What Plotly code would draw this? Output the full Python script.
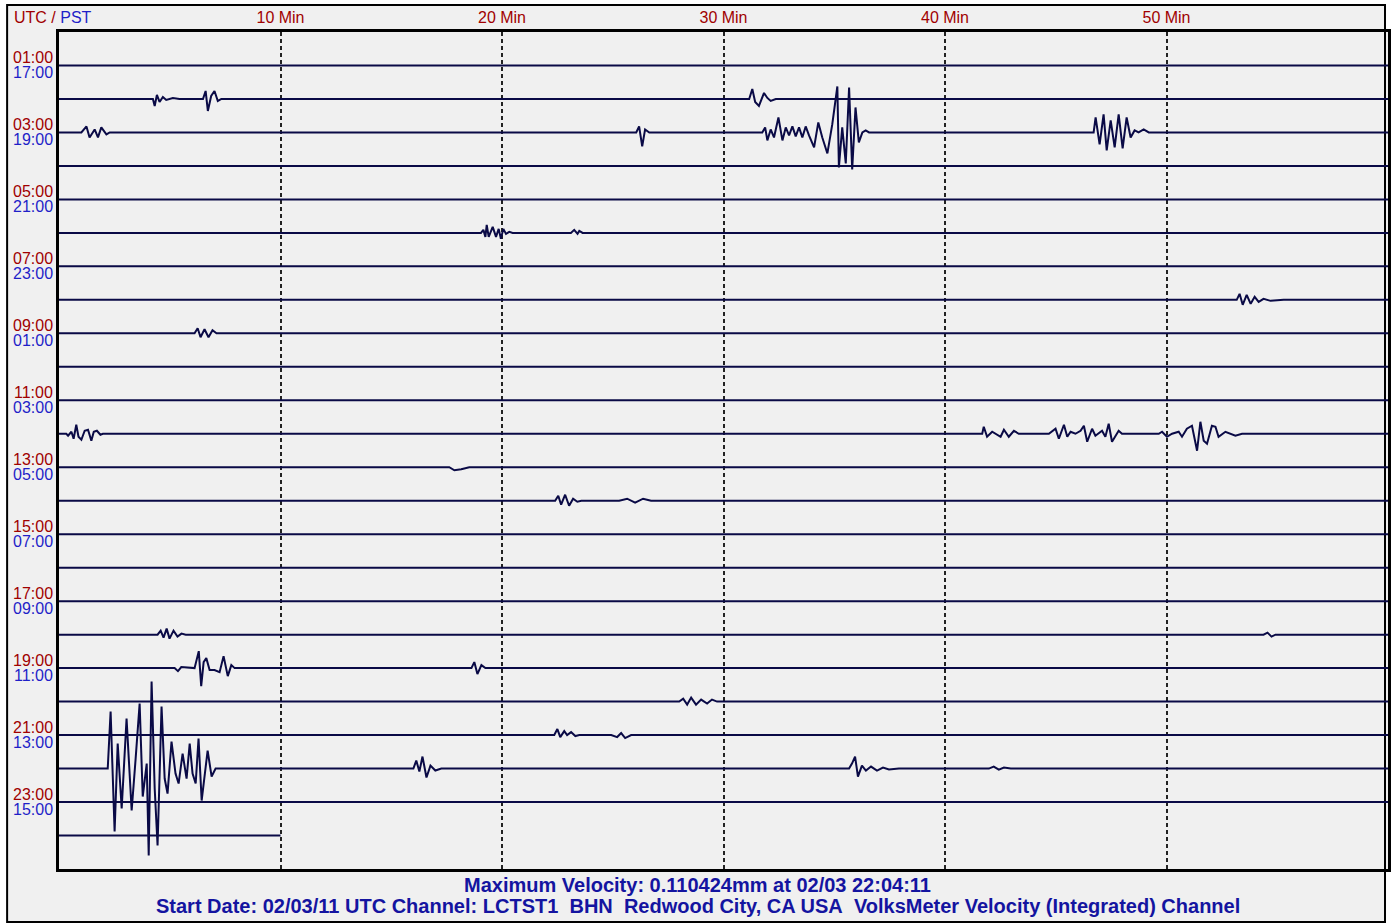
import plotly.graph_objects as go

# ---------------- data ----------------
N_ROWS = 24
row_end_minutes = [60] * 23 + [10]          # last line stops at 10 min
label_rows = [0, 2, 4, 6, 8, 10, 12, 14, 16, 18, 20, 22]
utc_labels = ["01:00", "03:00", "05:00", "07:00", "09:00", "11:00",
              "13:00", "15:00", "17:00", "19:00", "21:00", "23:00"]
pst_labels = ["17:00", "19:00", "21:00", "23:00", "01:00", "03:00",
              "05:00", "07:00", "09:00", "11:00", "13:00", "15:00"]
minute_ticks = [10, 20, 30, 40, 50]
minute_labels = ["10 Min", "20 Min", "30 Min", "40 Min", "50 Min"]
COUNTS_PER_ROW = 33.5   # trace amplitude (counts) equal to one line spacing

# events: times in minutes after the hour, amplitudes in counts
r1a_t = [4.24, 4.32, 4.42, 4.54, 4.69, 4.84, 5.14, 5.44]
r1a_v = [0, -7, 4, -3, 2, -1, 1, 0]
r1b_t = [6.50, 6.62, 6.72, 6.87, 7.02, 7.17, 7.33]
r1b_v = [0, 8, -12, 3, 8, -2, 0]
r1c_t = [31.16, 31.30, 31.43, 31.60, 31.83, 31.98, 32.13, 32.36]
r1c_v = [0, 10, -3, -7, 6, 1, -2, 0]

r2a_t = [1.01, 1.24, 1.38, 1.61, 1.76, 1.91, 2.14, 2.29]
r2a_v = [0, 6, -5, 3, -5, 5, -2, 0]
r2b_t = [26.06, 26.19, 26.33, 26.46, 26.65]
r2b_v = [0, 6, -14, 3, 0]
r2c_t = [31.75, 31.88, 31.98, 32.13, 32.28, 32.48, 32.66, 32.81, 32.96, 33.11,
         33.26, 33.41, 33.56, 33.71, 33.86, 34.09, 34.28, 34.46, 34.69, 34.91,
         35.14, 35.21, 35.36, 35.52, 35.67, 35.81, 35.96, 36.11, 36.27, 36.42, 36.57]
r2c_v = [0, 5, -8, 3, -5, 15, -8, 5, -3, 6,
         -4, 5, -5, 6, -3, -15, 10, -5, -21, 8,
         46, -35, 5, -31, 45, -37, 25, -10, 0, 2, 0]
r2d_t = [46.71, 46.80, 46.98, 47.16, 47.30, 47.48, 47.66, 47.84, 48.02, 48.20,
         48.38, 48.56, 48.74, 48.97, 49.20]
r2d_v = [0, 15, -12, 18, -18, 12, -15, 18, -16, 15, -5, 2, 0, 3, 0]

r5a_t = [19.05, 19.16, 19.25, 19.31, 19.40, 19.58, 19.73, 19.85, 19.95, 20.06, 20.18, 20.33, 20.48]
r5a_v = [0, 3, -4, 8, -4, 6, -4, 4, -6, 4, -1, 1, 0]
r5b_t = [23.11, 23.26, 23.41, 23.49, 23.64]
r5b_v = [0, 3, -1, 2, 0]

r7a_t = [53.17, 53.30, 53.44, 53.62, 53.80, 53.98, 54.16, 54.38, 54.70, 55.29]
r7a_v = [0, 6, -5, 5, -4, 3, -2, 1, -1, 0]

r8a_t = [6.12, 6.26, 6.39, 6.57, 6.75, 6.93, 7.11]
r8a_v = [0, 5, -4, 4, -4, 3, 0]

r11a_t = [0.33, 0.41, 0.56, 0.66, 0.78, 0.88, 1.01, 1.16, 1.31, 1.46, 1.57, 1.71, 1.87, 1.98]
r11a_v = [0, -2, 2, -5, 9, -3, -6, 3, 4, -7, 2, 3, -1, 0]
r11b_t = [41.68, 41.75, 41.90, 42.13, 42.51, 42.66, 42.88, 43.11, 43.33, 44.69,
          44.99, 45.14, 45.37, 45.52, 45.67, 45.89, 46.12, 46.27, 46.42, 46.64,
          46.79, 47.09, 47.24, 47.39, 47.54, 47.84, 47.99, 48.59]
r11b_v = [0, 7, -3, 2, -3, 4, -3, 3, 0, 0,
          5, -5, 9, -3, 2, 0, 3, 8, -8, 5,
          -2, 3, -3, 10, -8, 3, 0, 0]
r11c_t = [49.65, 49.80, 50.02, 50.25, 50.55, 50.70, 50.92, 51.15, 51.38, 51.53,
          51.68, 51.83, 52.05, 52.21, 52.35, 52.66, 53.11, 53.41]
r11c_v = [0, 2, -3, 0, 2, -3, 5, 8, -17, 12, -7, -10, 8, 7, -3, 2, -2, 0]

r12a_t = [17.62, 17.85, 18.16, 18.52]
r12a_v = [0, -3, -2, 0]

r13a_t = [22.40, 22.54, 22.67, 22.85, 23.03, 23.21, 23.40, 23.58]
r13a_v = [0, 5, -4, 6, -5, 2, -1, 0]
r13b_t = [25.29, 25.65, 26.01, 26.37, 26.73]
r13b_v = [0, 2, -2, 2, 0]

r17a_t = [4.45, 4.59, 4.72, 4.86, 4.99, 5.17, 5.35, 5.53, 5.72]
r17a_v = [0, 4, -3, 6, -4, 4, -2, 1, 0]
r17b_t = [54.38, 54.56, 54.74, 54.92]
r17b_v = [0, 2, -2, 0]

r18a_t = [5.22, 5.37, 5.52, 6.12, 6.31, 6.42, 6.53, 6.65, 6.80, 7.02, 7.25, 7.43, 7.62, 7.78, 7.93]
r18a_v = [0, -3, 1, 0, 17, -18, 6, 10, -2, -2, -4, 12, -8, 3, 0]
r18b_t = [18.62, 18.75, 18.89, 19.07, 19.25]
r18b_v = [0, 6, -6, 3, 0]

r19a_t = [28.00, 28.18, 28.36, 28.54, 28.76, 28.99, 29.26, 29.48, 29.71]
r19a_v = [0, 3, -3, 4, -3, 2, -2, 2, 0]

r20a_t = [22.36, 22.50, 22.63, 22.81, 22.94, 23.12, 23.31, 23.49]
r20a_v = [0, 6, -2, 4, 0, 3, -1, 0]
r20b_t = [24.93, 25.20, 25.38, 25.56, 25.83]
r20b_v = [0, -2, 2, -3, 0]

r21a_t = [2.20, 2.33, 2.51, 2.65, 2.83, 3.05, 3.28, 3.46, 3.64, 3.78,
          3.96, 4.05, 4.18, 4.32, 4.45, 4.63, 4.77, 4.90, 5.08, 5.26,
          5.40, 5.58, 5.76, 5.90, 6.03, 6.17, 6.30, 6.44, 6.62, 6.71, 6.89, 7.07]
r21a_v = [0, 57, -63, 25, -40, 50, -42, 10, 65, -28,
          5, -87, 87, -20, -77, 62, -10, -25, 27, -5,
          -15, 15, -10, 25, -5, -15, 30, -32, 5, 18, -8, 0]
r21b_t = [16.00, 16.13, 16.27, 16.41, 16.59, 16.77, 16.99, 17.26]
r21b_v = [0, 8, -3, 12, -9, 3, -2, 0]
r21c_t = [35.67, 35.80, 35.94, 36.07, 36.25, 36.43, 36.66, 36.93, 37.20, 37.47, 37.92]
r21c_v = [0, 5, 12, -8, 3, -2, 2, -2, 1, -1, 0]
r21d_t = [41.98, 42.20, 42.43, 42.66, 42.97]
r21d_v = [0, 2, -1, 1, 0]

events = [
    (1, r1a_t, r1a_v), (1, r1b_t, r1b_v), (1, r1c_t, r1c_v),
    (2, r2a_t, r2a_v), (2, r2b_t, r2b_v), (2, r2c_t, r2c_v), (2, r2d_t, r2d_v),
    (5, r5a_t, r5a_v), (5, r5b_t, r5b_v),
    (7, r7a_t, r7a_v),
    (8, r8a_t, r8a_v),
    (11, r11a_t, r11a_v), (11, r11b_t, r11b_v), (11, r11c_t, r11c_v),
    (12, r12a_t, r12a_v),
    (13, r13a_t, r13a_v), (13, r13b_t, r13b_v),
    (17, r17a_t, r17a_v), (17, r17b_t, r17b_v),
    (18, r18a_t, r18a_v), (18, r18b_t, r18b_v),
    (19, r19a_t, r19a_v),
    (20, r20a_t, r20a_v), (20, r20b_t, r20b_v),
    (21, r21a_t, r21a_v), (21, r21b_t, r21b_v), (21, r21c_t, r21c_v), (21, r21d_t, r21d_v),
]

title_line1 = "Maximum Velocity: 0.110424mm at 02/03 22:04:11"
title_line2 = ("Start Date: 02/03/11 UTC Channel: LCTST1\u00a0\u00a0BHN\u00a0\u00a0Redwood City, CA USA"
               "\u00a0\u00a0VolksMeter Velocity (Integrated) Channel")

# ---------------- styles ----------------
W, H = 1395, 924
ML, MR, MT, MB = 59, 4, 32, 55
PW, PH = W - ML - MR, H - MT - MB
BG = "#f0f0f0"
TRACE = "#0a0a46"
RED = "#a00000"
BLUE = "#1f1fc8"
TITLE_BLUE = "#1414a0"
FONT = "Liberation Sans, Arial, sans-serif"

fig = go.Figure()

for r in range(N_ROWS):
    xs = [0.0]
    ys = [0.0]
    evs = sorted([e for e in events if e[0] == r], key=lambda e: e[1][0])
    for _, t, v in evs:
        xs += t
        ys += v
    xs.append(row_end_minutes[r])
    ys.append(0.0)
    fig.add_trace(go.Scatter(
        x=xs, y=[-r + a / COUNTS_PER_ROW for a in ys], mode="lines",
        line=dict(color=TRACE, width=2), hoverinfo="skip", showlegend=False))

annotations = []
for r, u, p in zip(label_rows, utc_labels, pst_labels):
    annotations.append(dict(x=0, xref="paper", y=-r, yref="y", text=u, showarrow=False,
                            xanchor="right", yanchor="middle", xshift=-4, yshift=8,
                            font=dict(family=FONT, size=16, color=RED)))
    annotations.append(dict(x=0, xref="paper", y=-r, yref="y", text=p, showarrow=False,
                            xanchor="right", yanchor="middle", xshift=-4, yshift=-7,
                            font=dict(family=FONT, size=16, color=BLUE)))

annotations.append(dict(x=(12 - ML) / PW, xref="paper", y=1 + (MT - 18) / PH, yref="paper",
                        text=f"<span style='color:{RED}'>UTC /</span> <span style='color:{BLUE}'>PST</span>",
                        showarrow=False, xanchor="left", yanchor="middle",
                        font=dict(family=FONT, size=16, color=RED)))
TITLE_FONT = "Liberation Sans Narrow, Arial Narrow, Liberation Sans"
annotations.append(dict(x=(699 - ML) / PW, xref="paper", y=-(885 - (H - MB)) / PH, yref="paper",
                        text=f"<b>{title_line1}</b>", showarrow=False, xanchor="center", yanchor="middle",
                        font=dict(family=TITLE_FONT, size=20, color=TITLE_BLUE)))
annotations.append(dict(x=(699 - ML) / PW, xref="paper", y=-(906 - (H - MB)) / PH, yref="paper",
                        text=f"<b>{title_line2}</b>", showarrow=False, xanchor="center", yanchor="middle",
                        font=dict(family=TITLE_FONT, size=20, color=TITLE_BLUE)))

shapes = [dict(type="rect", xref="paper", yref="paper",
               x0=(7 - ML) / PW, x1=(1388 - ML) / PW,
               y0=-(922 - (H - MB)) / PH, y1=1 + (MT - 5) / PH,
               line=dict(color="black", width=2), fillcolor=BG, layer="below")]

fig.update_layout(
    width=W, height=H, margin=dict(l=ML, r=MR, t=MT, b=MB),
    paper_bgcolor="white", plot_bgcolor=BG,
    annotations=annotations, shapes=shapes, showlegend=False,
    xaxis=dict(range=[0, 60], side="top", tickmode="array", tickvals=minute_ticks,
               ticktext=minute_labels, ticks="", ticklabelstandoff=0,
               tickfont=dict(family=FONT, size=16, color=RED),
               showgrid=True, gridcolor="#222222", gridwidth=1.5, griddash="4px,3px",
               zeroline=False, showline=True, mirror=True, linecolor="black", linewidth=3),
    yaxis=dict(range=[-24, 1], showticklabels=False, ticks="", showgrid=False,
               zeroline=False, showline=True, mirror=True, linecolor="black", linewidth=3),
)

fig.write_html("out.html", config={"displayModeBar": False},
               post_script="document.body.style.margin='0';document.body.style.overflow='hidden';")
